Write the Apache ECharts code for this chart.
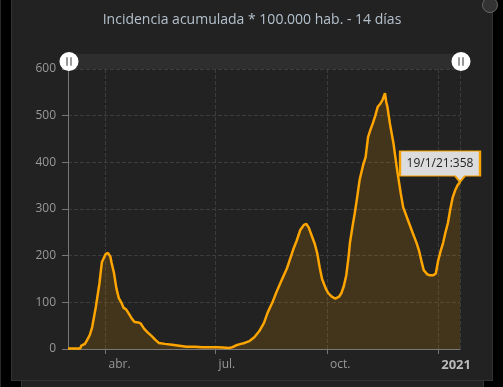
<!DOCTYPE html>
<html>
<head>
<meta charset="utf-8">
<script src="https://cdn.jsdelivr.net/npm/echarts@6/dist/echarts.min.js"></script>
<style>
  html, body { margin: 0; padding: 0; background: #000; width: 503px; height: 387px; overflow: hidden; }
  #edge { position: absolute; left: 0; top: 0; width: 1px; height: 387px; background: #2a2a2a; }
  #below { position: absolute; left: 21px; top: 381px; width: 461px; height: 6px; background: #222; border-left: 1px solid #333; border-right: 1px solid #333; }
  #chart { position: absolute; left: 11px; top: 0; width: 482px; height: 381px; background: #222; border-left: 1px solid #333; border-right: 1px solid #333; border-bottom: 1px solid #333; box-sizing: border-box; }
  #fs { position: absolute; left: 482px; top: -3px; width: 14px; height: 14px; border-radius: 50%; border: 1.5px solid #666; background: #333; }
</style>
</head>
<body>
<div id="edge"></div>
<div id="below"></div>
<div id="chart"></div>
<div id="fs"></div>
<script>
  // fechas y valores
  var fechas = [
    '2020-03-01','2020-03-11','2020-03-12','2020-03-15','2020-03-17','2020-03-19','2020-03-21','2020-03-24',
    '2020-03-27','2020-03-29','2020-04-01','2020-04-03','2020-04-05','2020-04-06','2020-04-08','2020-04-10',
    '2020-04-12','2020-04-14','2020-04-16','2020-04-18','2020-04-20','2020-04-23','2020-04-25','2020-04-28',
    '2020-04-30','2020-05-03','2020-05-06','2020-05-09','2020-05-12','2020-05-15','2020-05-20','2020-05-26',
    '2020-06-01','2020-06-07','2020-06-14','2020-06-20','2020-06-26','2020-07-02','2020-07-07','2020-07-12',
    '2020-07-15','2020-07-18','2020-07-22','2020-07-25','2020-07-29','2020-08-02','2020-08-06','2020-08-10',
    '2020-08-13','2020-08-17','2020-08-20','2020-08-24','2020-08-29','2020-09-03','2020-09-06','2020-09-09',
    '2020-09-12','2020-09-14','2020-09-16','2020-09-18','2020-09-21','2020-09-23','2020-09-25','2020-09-27',
    '2020-09-30','2020-10-02','2020-10-05','2020-10-08','2020-10-11','2020-10-13','2020-10-15','2020-10-17',
    '2020-10-19','2020-10-20','2020-10-22','2020-10-24','2020-10-26','2020-10-28','2020-10-31','2020-11-02',
    '2020-11-04','2020-11-06','2020-11-08','2020-11-10','2020-11-12','2020-11-14','2020-11-16','2020-11-17',
    '2020-11-18','2020-11-19','2020-11-20','2020-11-22','2020-11-25','2020-11-28','2020-12-01','2020-12-03',
    '2020-12-05','2020-12-07','2020-12-09','2020-12-11','2020-12-14','2020-12-16','2020-12-18','2020-12-20',
    '2020-12-23','2020-12-25','2020-12-28','2020-12-30','2021-01-01','2021-01-03','2021-01-05','2021-01-07',
    '2021-01-09','2021-01-11','2021-01-13','2021-01-15','2021-01-17','2021-01-19'
  ];
  var incidencia = [
    1, 1, 7, 11, 20, 30, 47, 90,
    141, 186, 203, 206, 198, 185, 163, 130,
    109, 100, 88, 85, 77, 64, 58, 57,
    55, 43, 35, 28, 20, 13, 11, 9,
    7, 5, 5, 4, 4, 4, 3, 2,
    4, 8, 11, 13, 17, 25, 38, 56,
    78, 100, 120, 144, 173, 212, 232, 255,
    266, 268, 260, 246, 225, 205, 175, 150,
    130, 120, 112, 108, 112, 120, 135, 158,
    200, 227, 260, 291, 325, 362, 395, 411,
    454, 470, 484, 500, 519, 525, 534, 535,
    548, 530, 519, 484, 441, 384, 334, 304,
    290, 276, 262, 248, 228, 212, 190, 169,
    160, 158, 158, 162, 190, 210, 227, 250,
    270, 300, 325, 340, 351, 358
  ];
  var meses = ['ene.', 'feb.', 'mar.', 'abr.', 'may.', 'jun.', 'jul.', 'ago.', 'sept.', 'oct.', 'nov.', 'dic.'];

  var datos = fechas.map(function (f, i) { return [f, incidencia[i]]; });
  var ultimo = datos[datos.length - 1];
  var d = new Date(ultimo[0]);
  var etiqueta = d.getDate() + '/' + (d.getMonth() + 1) + '/' + String(d.getFullYear()).slice(2) + ':' + ultimo[1];
  var trimestre = 3600 * 1000 * 24 * 91;

  var myChart = echarts.init(document.getElementById('chart'));
  myChart.setOption({
    animation: false,
    backgroundColor: '#222',
    title: {
      text: 'Incidencia acumulada * 100.000 hab. - 14 días',
      left: 'center',
      top: 8,
      textStyle: { color: '#b4c0cc', fontSize: 14, fontWeight: 'normal', fontFamily: 'Open Sans' }
    },
    grid: { left: 56, right: 32, top: 69, bottom: 31 },
    dataZoom: [{
      type: 'slider',
      xAxisIndex: 0,
      start: 0,
      end: 100,
      top: 54,
      height: 15,
      left: 55,
      right: 31,
      showDetail: false,
      showDataShadow: false,
      brushSelect: false,
      moveHandleSize: 0,
      backgroundColor: '#2e2e2e',
      fillerColor: 'rgba(0,0,0,0)',
      borderColor: 'transparent',
      handleIcon: 'path://M0,-10A10,10,0,1,1,0,10A10,10,0,1,1,0,-10Z M-2.6,-4.5L-2.6,4.5L-1.6,4.5L-1.6,-4.5Z M1.6,-4.5L1.6,4.5L2.6,4.5L2.6,-4.5Z',
      handleSize: 19,
      handleStyle: { color: '#fff', borderColor: '#fff', borderWidth: 0 }
    }],
    xAxis: {
      type: 'time',
      min: 'dataMin',
      max: 'dataMax',
      splitNumber: 3,
      minInterval: trimestre,
      maxInterval: trimestre,
      axisLine: { lineStyle: { color: '#777' } },
      axisTick: { show: true, length: 5, lineStyle: { color: '#777' } },
      splitLine: { show: true, lineStyle: { color: '#3c3c3c', type: 'dashed' } },
      axisLabel: {
        color: '#999',
        fontSize: 12,
        fontFamily: 'Open Sans',
        align: 'left',
        padding: [0, 0, 0, 3],
        margin: 10,
        formatter: function (value) {
          var f = new Date(value);
          if (f.getMonth() === 0) {
            return '{y|' + f.getFullYear() + '}';
          }
          return meses[f.getMonth()];
        },
        rich: {
          y: { color: '#bbb', fontSize: 13, fontWeight: 'bold', fontFamily: 'Open Sans' }
        }
      }
    },
    yAxis: {
      type: 'value',
      min: 0,
      max: 600,
      interval: 100,
      axisLine: { show: true, lineStyle: { color: '#777' } },
      axisTick: { show: true, length: 6, lineStyle: { color: '#777' } },
      splitLine: { lineStyle: { color: '#3c3c3c', type: 'dashed' } },
      axisLabel: { color: '#999', fontSize: 12, fontFamily: 'Open Sans', margin: 12 }
    },
    series: [{
      type: 'line',
      data: datos,
      symbol: 'none',
      lineStyle: { color: '#ffa500', width: 2.5 },
      itemStyle: { color: '#ffa500' },
      areaStyle: { color: 'rgba(255,165,0,0.22)' },
      markPoint: {
        symbol: 'path://M0,0H80V25H65L60,31L55,25H0Z',
        symbolSize: [80, 31],
        symbolOffset: [-20, -15.5],
        itemStyle: { color: '#dcdcdc', borderColor: '#f5a300', borderWidth: 1.5 },
        label: {
          show: true,
          color: '#222',
          fontSize: 12,
          fontFamily: 'Open Sans',
          offset: [0, -3],
          formatter: etiqueta
        },
        data: [{ coord: ultimo }]
      }
    }]
  });
</script>
</body>
</html>
